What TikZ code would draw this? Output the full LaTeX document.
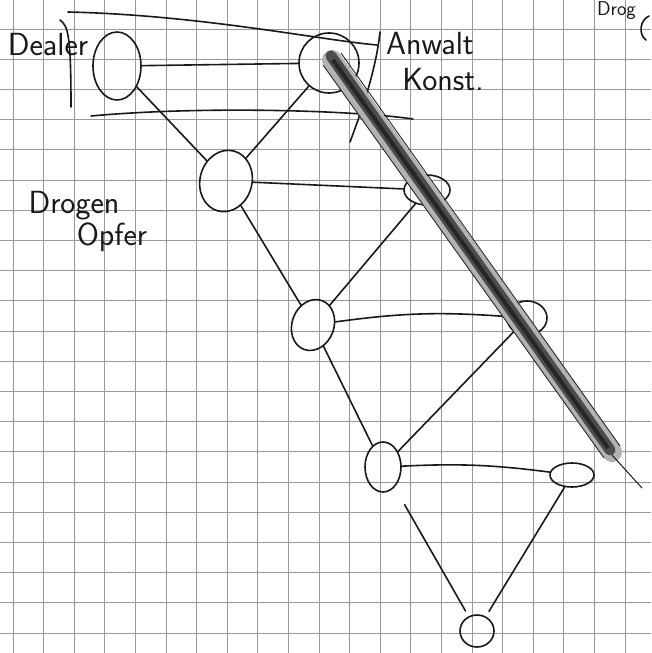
\documentclass[tikz,border=0pt]{standalone}
\usetikzlibrary{shapes.geometric}
\begin{document}
\begin{tikzpicture}[x=1pt,y=-1pt,
  pen/.style={line width=1.6pt, black!90, line cap=round},
  blob/.style={ellipse, draw, line width=1.6pt, black!90, inner sep=0pt},
  lbl/.style={font=\sffamily\fontsize{32}{36}\selectfont, black!90, inner sep=0pt},
  gridln/.style={black!40, line width=0.9pt}]
\useasboundingbox (0,0) rectangle (651,653);
\clip (0,0) rectangle (651,653);
\fill[white] (0,0) rectangle (651,653);
% grid paper
\foreach \i in {0,...,21} \draw[gridln] ({13+30.6*\i},0) -- ({13+30.6*\i},653);
\foreach \j in {0,...,22} \draw[gridln] (0,{-1.2+30.2*\j}) -- (651,{-1.2+30.2*\j});
% stray strokes
\draw[pen] (68,12) .. controls (200,15) and (320,40) .. (377,45);
\draw[pen] (60,20) .. controls (68,26) and (71,34) .. (71,107);
\draw[pen] (91,116) .. controls (200,106) and (350,110) .. (413,119);
\draw[pen] (380,32) .. controls (376,70) and (362,110) .. (350,142);
\draw[pen] (649,16) .. controls (640,20) and (638,34) .. (646,40);
% nodes
\node[blob, minimum width=48, minimum height=68] (dealer) at (117,66) {};
\node[blob, minimum width=60, minimum height=60] (anwalt) at (329,63) {};
\node[blob, minimum width=52, minimum height=62, rotate=-15] (opfer) at (226,181) {};
\node[blob, minimum width=46, minimum height=30] (n4) at (427,190) {};
\node[blob, minimum width=42, minimum height=52, rotate=-20] (n5) at (313,325) {};
\node[blob, minimum width=40, minimum height=34] (n6) at (527,318) {};
\node[blob, minimum width=36, minimum height=50] (n7) at (383,467) {};
\node[blob, minimum width=44, minimum height=24] (n8) at (572,475) {};
\node[blob, minimum width=34, minimum height=32] (n9) at (477,631) {};
% labels
\node[lbl] (tdealer) at (48,45) {Dealer};
\node[lbl] (tanw) at (430,44) {Anwalt};
\node[lbl] (tkon) at (443,80) {Konst.};
\node[lbl] (tdro) at (74,206) {Drogen};
\node[lbl] (topf) at (112,237) {Opfer};
\node[lbl, font=\sffamily\fontsize{20}{24}\selectfont, anchor=north east] (tdrog) at (636,1) {Drog};
% connectors
\draw[pen] (dealer) -- (anwalt);
\draw[pen] (dealer) -- (opfer);
\draw[pen] (anwalt) -- (opfer);
\draw[pen] (opfer) -- (n4);
\draw[pen] (opfer) -- (n5);
\draw[pen] (n4) -- (n5);
\draw[pen] (n5) to[bend left=6] (n6);
\draw[pen] (n5) -- (n7);
\draw[pen] (n6) -- (n7);
\draw[pen] (n7) to[bend left=5] (n8);
\draw[pen, shorten <=20pt, shorten >=6pt] (n7) -- (n9);
\draw[pen, shorten >=6pt] (n8) -- (n9);
% thick diagonal stroke
\draw[line width=20pt, black!30, line cap=round] (332,60) -- (612,452);
\draw[line width=11pt, black!70, line cap=round] (331,56) -- (610,450);
\draw[line width=4pt, black!85] (333,60) -- (608,448);
\draw[line width=0.9pt, black!85] (341.0,53) -- (620,446);
\draw[line width=0.9pt, black!85] (323.0,65) -- (604,458);
\draw[pen, line width=1pt] (612,455) -- (642,488);
\end{tikzpicture}
\end{document}
